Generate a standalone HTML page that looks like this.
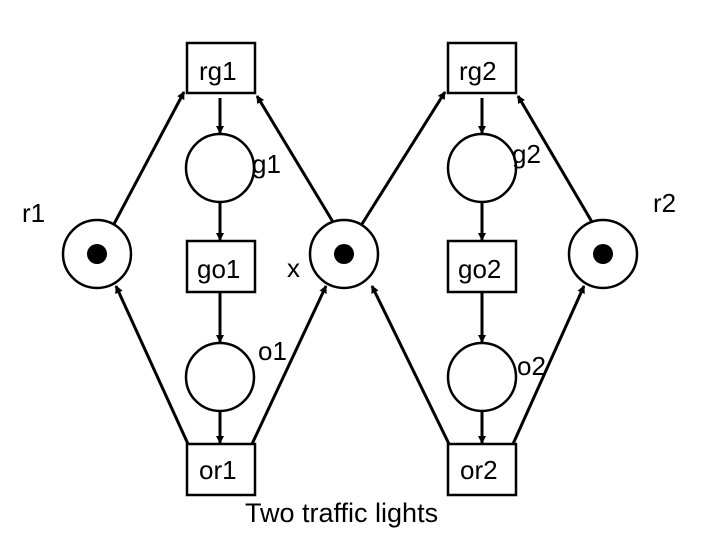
<!DOCTYPE html>
<html><head><style>
body{margin:0;background:#fff;}
svg text{font-family:"Liberation Sans",sans-serif;font-size:26px;fill:#000;}
</style></head><body>
<svg width="720" height="540" viewBox="0 0 720 540" xmlns="http://www.w3.org/2000/svg">
<defs><marker id="a" markerWidth="8" markerHeight="8" refX="7" refY="4" orient="auto" markerUnits="userSpaceOnUse"><path d="M0,0 L8,4 L0,8 z" fill="#000"/></marker></defs>
<g fill="#fff" stroke="#000" stroke-width="2.5">
<rect x="187" y="43" width="68" height="50"/>
<rect x="448" y="43" width="68" height="50"/>
<rect x="187" y="241" width="68" height="51"/>
<rect x="448" y="241" width="68" height="51"/>
<rect x="187" y="444" width="68" height="51"/>
<rect x="448" y="444" width="68" height="51"/>
<circle cx="220" cy="168" r="34"/>
<circle cx="482" cy="168" r="34"/>
<circle cx="220" cy="377" r="34"/>
<circle cx="482" cy="377" r="34"/>
<circle cx="97" cy="254" r="34"/>
<circle cx="344" cy="254" r="34"/>
<circle cx="603" cy="254" r="34"/>
</g>
<g fill="#000"><circle cx="97" cy="254" r="10"/><circle cx="344" cy="254" r="10"/><circle cx="603" cy="254" r="10"/></g>
<g stroke="#000" stroke-width="3" marker-end="url(#a)">
<line x1="220" y1="98" x2="220" y2="133"/>
<line x1="220" y1="202" x2="220" y2="240"/>
<line x1="220" y1="293" x2="220" y2="342"/>
<line x1="220" y1="411" x2="220" y2="443"/>
<line x1="482" y1="98" x2="482" y2="133"/>
<line x1="482" y1="202" x2="482" y2="240"/>
<line x1="482" y1="293" x2="482" y2="342"/>
<line x1="482" y1="411" x2="482" y2="443"/>
<line x1="114" y1="224" x2="184" y2="92"/>
<line x1="333" y1="222" x2="257" y2="96"/>
<line x1="362" y1="224" x2="445" y2="92"/>
<line x1="592" y1="222" x2="518" y2="96"/>
<line x1="188" y1="444" x2="116" y2="286"/>
<line x1="252" y1="444" x2="326" y2="286"/>
<line x1="449" y1="444" x2="372" y2="286"/>
<line x1="513" y1="444" x2="584" y2="286"/>
</g>
<text x="199" y="80">rg1</text>
<text x="459" y="80">rg2</text>
<text x="197" y="278">go1</text>
<text x="458" y="278">go2</text>
<text x="199" y="479">or1</text>
<text x="460" y="479">or2</text>
<text x="252" y="173">g1</text>
<text x="512" y="163">g2</text>
<text x="258" y="360">o1</text>
<text x="517" y="375">o2</text>
<text x="287" y="277">x</text>
<text x="22" y="222">r1</text>
<text x="653" y="212">r2</text>
<text x="245" y="522" style="font-size:27px">Two traffic lights</text>
</svg>
</body></html>
